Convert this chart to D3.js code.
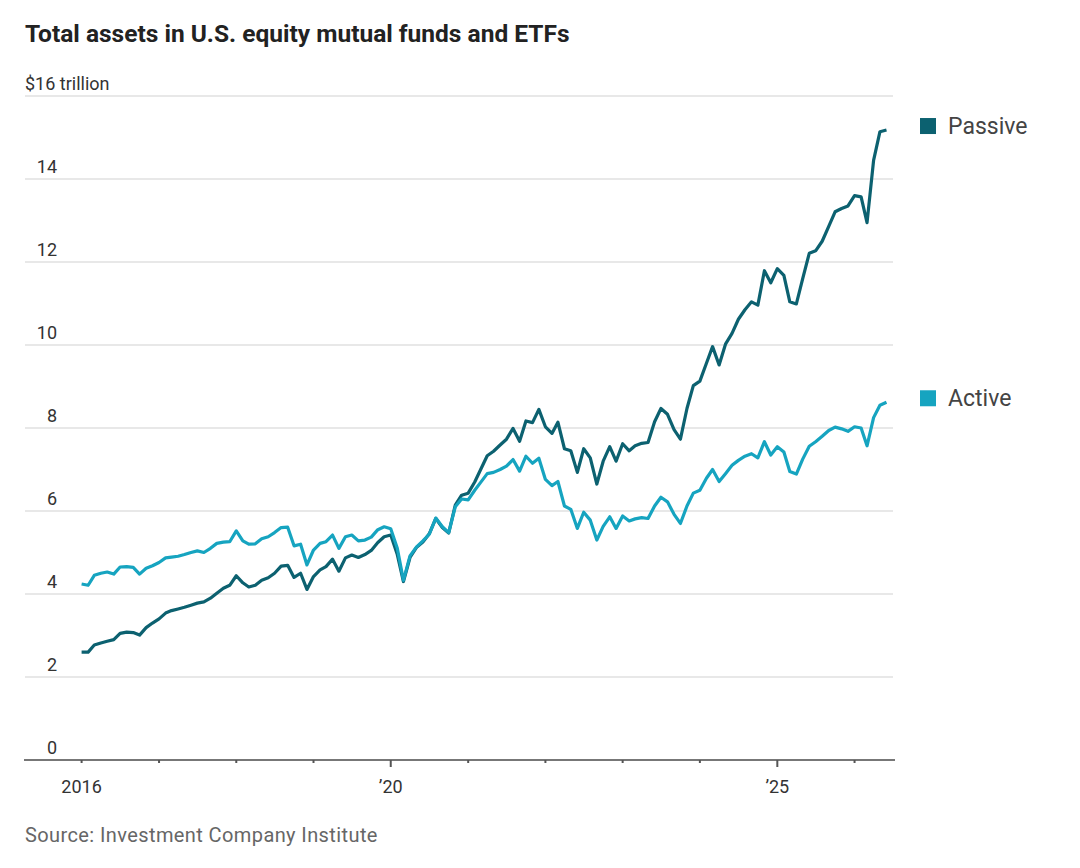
<!DOCTYPE html>
<html>
    <head>
        <title>Total assets in U.S. equity mutual funds and ETFs</title>
        <script src="https://d3js.org/d3.v7.min.js"></script>
        <meta charset="UTF-8">
        <style>
            body { margin: 0; background: #fff; }
            text { font-family: "Roboto", "Liberation Sans", sans-serif; }
        </style>
    </head>
    <body>
        <script>
            // monthly values, trillions of dollars, Jan 2016 onward
            var startYear = 2016;
            var passive = [
                2.60, 2.60, 2.77, 2.82, 2.86, 2.90, 3.05, 3.08, 3.07, 3.01, 3.19, 3.30,
                3.40, 3.54, 3.60, 3.64, 3.68, 3.73, 3.78, 3.81, 3.90, 4.02, 4.14, 4.21,
                4.44, 4.27, 4.17, 4.21, 4.33, 4.39, 4.50, 4.67, 4.69, 4.40, 4.50, 4.11,
                4.42, 4.58, 4.66, 4.84, 4.55, 4.87, 4.94, 4.88, 4.95, 5.05, 5.24, 5.38,
                5.42, 4.95, 4.30, 4.88, 5.12, 5.25, 5.45, 5.82, 5.60, 5.47, 6.14, 6.38,
                6.43, 6.70, 7.00, 7.33, 7.44, 7.59, 7.73, 7.99, 7.68, 8.17, 8.13, 8.45,
                8.03, 7.87, 8.14, 7.50, 7.45, 6.93, 7.50, 7.28, 6.65, 7.20, 7.55, 7.20,
                7.62, 7.45, 7.57, 7.63, 7.65, 8.15, 8.47, 8.33, 7.96, 7.73, 8.47, 9.02,
                9.13, 9.56, 9.96, 9.52, 10.02, 10.28, 10.62, 10.85, 11.04, 10.96, 11.79, 11.50,
                11.84, 11.68, 11.04, 10.99, 11.60, 12.21, 12.27, 12.50, 12.86, 13.21, 13.29, 13.35,
                13.60, 13.57, 12.95, 14.45, 15.14, 15.18
            ];
            var active = [
                4.24, 4.21, 4.45, 4.50, 4.53, 4.48, 4.65, 4.66, 4.64, 4.48, 4.62, 4.68,
                4.76, 4.87, 4.89, 4.91, 4.95, 5.00, 5.04, 5.00, 5.10, 5.22, 5.25, 5.26,
                5.52, 5.28, 5.20, 5.21, 5.33, 5.38, 5.48, 5.60, 5.61, 5.16, 5.20, 4.70,
                5.06, 5.22, 5.26, 5.42, 5.10, 5.38, 5.42, 5.28, 5.30, 5.37, 5.55, 5.62,
                5.57, 5.10, 4.33, 4.92, 5.13, 5.28, 5.44, 5.83, 5.62, 5.48, 6.10, 6.29,
                6.27, 6.50, 6.69, 6.90, 6.93, 7.00, 7.08, 7.24, 6.96, 7.32, 7.15, 7.27,
                6.76, 6.61, 6.71, 6.12, 6.04, 5.58, 5.97, 5.78, 5.30, 5.63, 5.86, 5.58,
                5.88, 5.76, 5.81, 5.84, 5.82, 6.12, 6.33, 6.22, 5.92, 5.70, 6.12, 6.43,
                6.50, 6.79, 7.00, 6.71, 6.90, 7.10, 7.22, 7.32, 7.38, 7.28, 7.67, 7.35,
                7.55, 7.42, 6.95, 6.89, 7.25, 7.56, 7.67, 7.80, 7.94, 8.02, 7.98, 7.92,
                8.03, 8.00, 7.57, 8.25, 8.55, 8.62
            ];
            var seriesNames = ["Passive", "Active"];
            var yTicks = [0, 2, 4, 6, 8, 10, 12, 14, 16];
            var xTickYears = [2016, 2017, 2018, 2019, 2020, 2021, 2022, 2023, 2024, 2025, 2026];
            var xLabels = {2016: "2016", 2020: "\u201920", 2025: "\u201925"};

            var w = 1080;
            var h = 868;
            var colors = {Passive: "#0c6170", Active: "#16a4c0"};

            var svg = d3.select("body")
                    .append("svg")
                    .attr("width", w)
                    .attr("height", h);

            var xscale = d3.scaleTime()
                    .domain([new Date(2016, 0, 1), new Date(2026, 5, 1)])
                    .range([81.6, 886.5]);
            var yscale = d3.scaleLinear()
                    .domain([0, 16])
                    .range([760, 96]);

            // title
            svg.append("text")
                    .attr("x", 25).attr("y", 42)
                    .attr("font-size", 24.5).attr("font-weight", "bold")
                    .attr("fill", "#222")
                    .text("Total assets in U.S. equity mutual funds and ETFs");

            // gridlines
            svg.selectAll("line.grid")
                    .data(yTicks.slice(1))
                    .enter()
                    .append("line")
                    .attr("class", "grid")
                    .attr("x1", 25).attr("x2", 893)
                    .attr("y1", function (d) { return yscale(d); })
                    .attr("y2", function (d) { return yscale(d); })
                    .attr("stroke", "#e8e8e8")
                    .attr("stroke-width", 2);

            svg.selectAll("text.ylab")
                    .data(yTicks)
                    .enter()
                    .append("text")
                    .attr("class", "ylab")
                    .attr("x", function (d) { return d == 16 ? 25 : 57; })
                    .attr("y", function (d) { return yscale(d) - 6; })
                    .attr("text-anchor", function (d) { return d == 16 ? "start" : "end"; })
                    .attr("font-size", 18)
                    .attr("fill", "#333")
                    .text(function (d) { return d == 16 ? "$16 trillion" : d; });

            // x axis
            svg.append("line")
                    .attr("x1", 24).attr("x2", 895)
                    .attr("y1", 760).attr("y2", 760)
                    .attr("stroke", "#777")
                    .attr("stroke-width", 2);

            svg.selectAll("line.xtick")
                    .data(xTickYears)
                    .enter()
                    .append("line")
                    .attr("class", "xtick")
                    .attr("x1", function (d) { return xscale(new Date(d, 0, 1)); })
                    .attr("x2", function (d) { return xscale(new Date(d, 0, 1)); })
                    .attr("y1", 760)
                    .attr("y2", function (d) { return (d == 2020 || d == 2025) ? 767 : 763; })
                    .attr("stroke", "#555")
                    .attr("stroke-width", 2);

            svg.selectAll("text.xlab")
                    .data(xTickYears.filter(function (d) { return xLabels[d]; }))
                    .enter()
                    .append("text")
                    .attr("class", "xlab")
                    .attr("x", function (d) { return xscale(new Date(d, 0, 1)); })
                    .attr("y", 793)
                    .attr("text-anchor", "middle")
                    .attr("font-size", 18)
                    .attr("fill", "#333")
                    .text(function (d) { return xLabels[d]; });

            // lines
            var line = d3.line()
                    .x(function (d, i) { return xscale(new Date(startYear, i, 1)); })
                    .y(function (d) { return yscale(d); });

            var data = {Passive: passive, Active: active};
            ["Passive", "Active"].forEach(function (name) {
                svg.append("path")
                        .datum(data[name])
                        .attr("d", line)
                        .attr("fill", "none")
                        .attr("stroke", colors[name])
                        .attr("stroke-width", 3.2)
                        .attr("stroke-linejoin", "round");
            });

            // legend at line ends
            var legend = svg.selectAll("g.legend")
                    .data(seriesNames)
                    .enter()
                    .append("g")
                    .attr("class", "legend")
                    .attr("transform", function (d) {
                        var last = data[d][data[d].length - 1];
                        return "translate(920," + (yscale(last) - 4) + ")";
                    });
            legend.append("rect")
                    .attr("x", 0).attr("y", -8)
                    .attr("width", 16).attr("height", 16)
                    .attr("fill", function (d) { return colors[d]; });
            legend.append("text")
                    .attr("x", 28).attr("y", 8)
                    .attr("font-size", 23)
                    .attr("fill", "#444")
                    .text(function (d) { return d; });

            svg.append("text")
                    .attr("x", 25).attr("y", 842)
                    .attr("font-size", 20)
                    .attr("letter-spacing", 0.4)
                    .attr("fill", "#666")
                    .text("Source: Investment Company Institute");
        </script>
    </body>
</html>
